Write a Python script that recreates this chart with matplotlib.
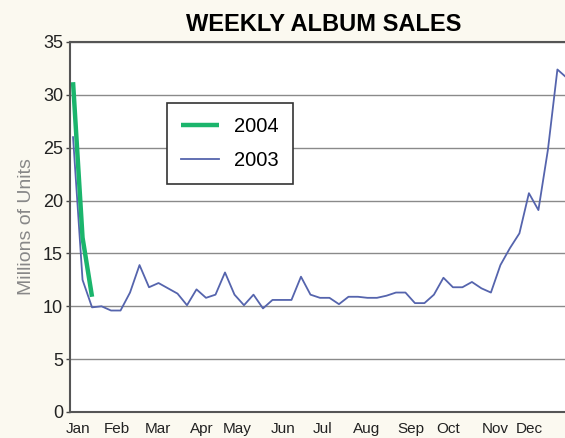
import matplotlib
matplotlib.use("Agg")
import matplotlib.pyplot as plt

plt.rcParams['font.family'] = ['Liberation Sans', 'DejaVu Sans']

# weekly sales, millions of units (week 0 = first week of January)
sales_2003 = [26.0, 12.5, 9.9, 10.0, 9.6, 9.6, 11.3, 13.9, 11.8, 12.2,
              11.7, 11.2, 10.1, 11.6, 10.8, 11.1, 13.2, 11.1, 10.1, 11.1,
              9.8, 10.6, 10.6, 10.6, 12.8, 11.1, 10.8, 10.8, 10.2, 10.9,
              10.9, 10.8, 10.8, 11.0, 11.3, 11.3, 10.3, 10.3, 11.1, 12.7,
              11.8, 11.8, 12.3, 11.7, 11.3, 13.9, 15.5, 16.9, 20.7, 19.1,
              24.8, 32.4, 31.6]
sales_2004 = [31.2, 16.5, 10.9]

months = ["Jan", "Feb", "Mar", "Apr", "May", "Jun",
          "Jul", "Aug", "Sep", "Oct", "Nov", "Dec"]
month_pos = [0.5, 4.6, 8.9, 13.6, 17.3, 22.1, 26.3, 30.9, 35.6, 39.5, 44.5, 48.0]

fig = plt.figure(figsize=(5.65, 4.38), dpi=100, facecolor="#fbf9f0")
ax = fig.add_axes([70/565, 26/438, 1 - 70/565, 370/438])
ax.set_facecolor("white")

weeks03 = list(range(len(sales_2003)))
weeks04 = list(range(len(sales_2004)))
ax.plot(weeks03, sales_2003, color="#5564ad", lw=1.3, label="2003")
ax.plot(weeks04, sales_2004, color="#1bb56c", lw=3.2, label="2004",
        solid_capstyle="butt")

ax.set_xlim(-0.32, 51.8)
ax.set_ylim(0, 35)
ax.set_yticks(range(0, 36, 5))
ax.yaxis.grid(True, color="#8a8a8a", lw=1.0)
ax.set_axisbelow(True)
ax.set_xticks(month_pos)
ax.set_xticklabels(months, fontsize=11, color="#222222")
ax.tick_params(axis="x", length=0, pad=7)
ax.tick_params(axis="y", labelsize=13, length=3, width=1, colors="#444444",
               labelcolor="#222222", pad=2)

for s in ["left", "bottom", "top"]:
    ax.spines[s].set_color("#555555")
    ax.spines[s].set_linewidth(1.5)
ax.spines["right"].set_visible(False)

ax.set_ylabel("Millions of Units", fontsize=14, color="#888888", labelpad=6)
fig.text(0.573, 0.943, "WEEKLY ALBUM SALES", ha="center", va="center",
         fontsize=17, fontweight="bold")

h, l = ax.get_legend_handles_labels()
leg = ax.legend(h[::-1], l[::-1], loc="upper left",
                bbox_to_anchor=(167/565, 1 - 103/438),
                bbox_transform=fig.transFigure, fontsize=14.5,
                frameon=True, fancybox=False, framealpha=1,
                edgecolor="#333333", handlelength=1.9, handletextpad=0.75,
                labelspacing=0.75, borderpad=0.7, borderaxespad=0)
leg.get_frame().set_linewidth(1.2)

fig.savefig("out.png", dpi=100, facecolor=fig.get_facecolor())
